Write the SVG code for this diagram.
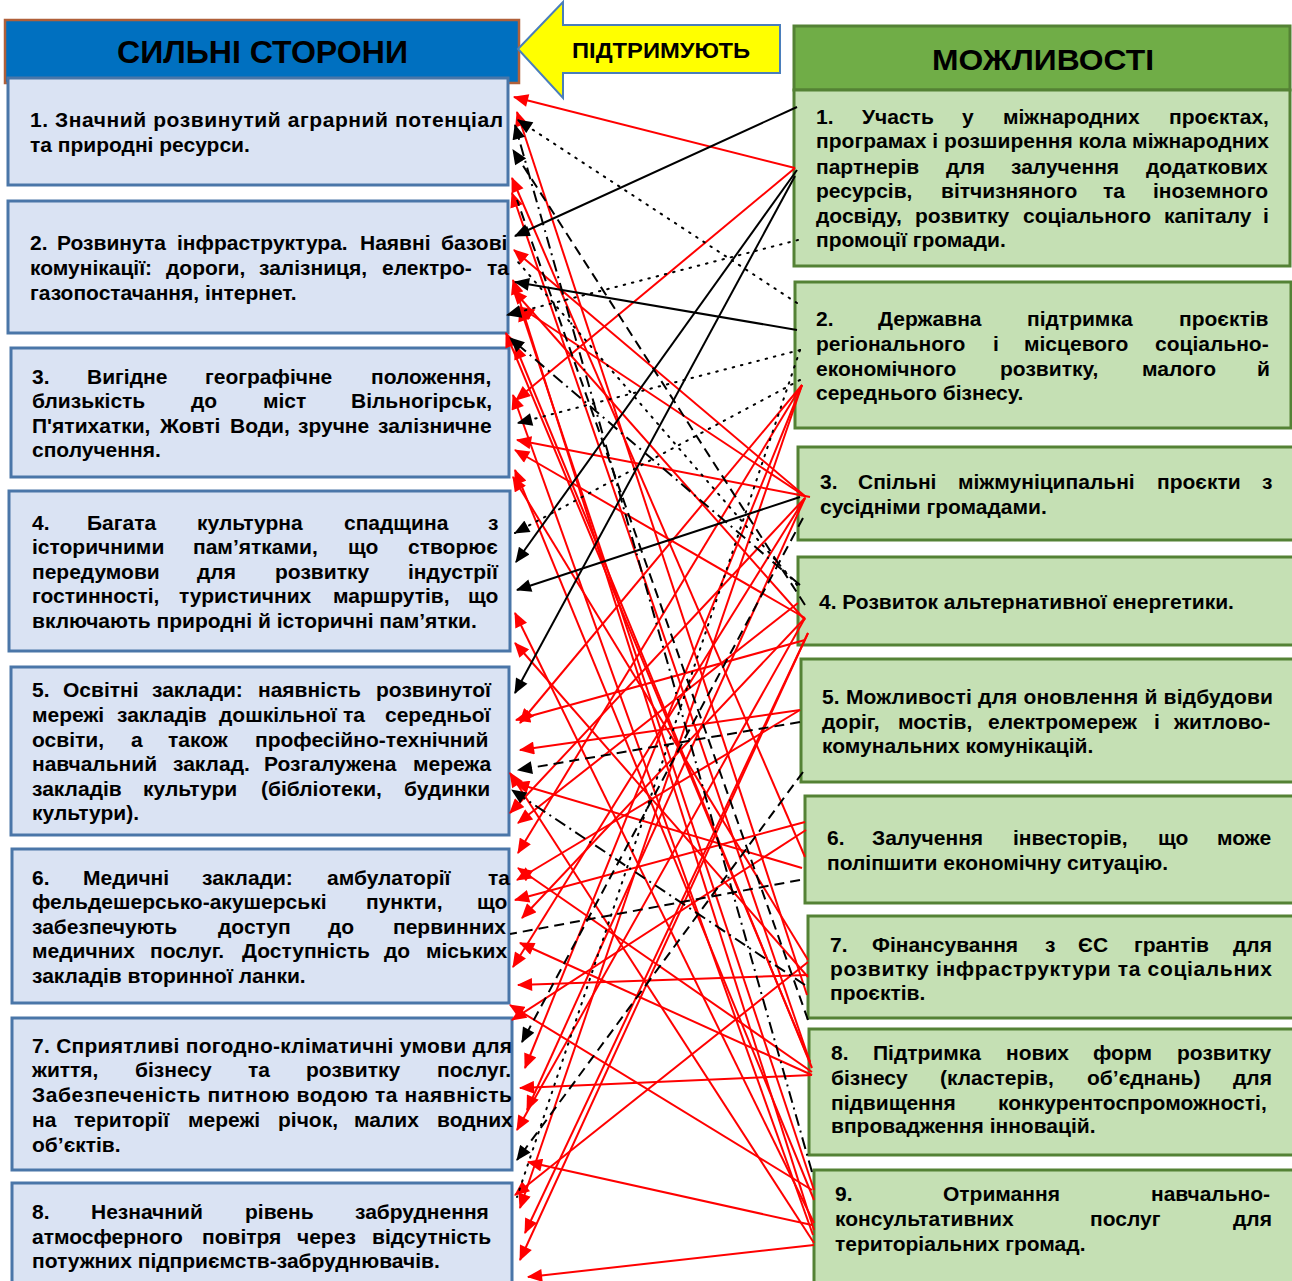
<svg xmlns="http://www.w3.org/2000/svg" width="1292" height="1281" viewBox="0 0 1292 1281">
<style>
.lbox{fill:#DAE3F3;stroke:#4A76A8;stroke-width:3}
.rbox{fill:#C5E0B4;stroke:#548235;stroke-width:3}
.t{font-family:"Liberation Sans",Arial,sans-serif;font-weight:bold;font-size:21px;fill:#000}
.h{font-family:"Liberation Sans",Arial,sans-serif;font-weight:bold;fill:#000}
.r{stroke:#FF0000;stroke-width:2;fill:none;marker-end:url(#ar)}
.k{stroke:#000;stroke-width:2;fill:none;marker-end:url(#ak)}
.kd{stroke:#000;stroke-width:2;fill:none;stroke-dasharray:10 6}
.kdd{stroke:#000;stroke-width:2;fill:none;stroke-dasharray:12 5 2 5}
.kp{stroke:#000;stroke-width:2;fill:none;stroke-dasharray:1.5 7;stroke-linecap:round}
.m{marker-end:url(#ak)}
</style>
<defs>
<marker id="ar" viewBox="0 0 14 12" refX="13" refY="6" markerWidth="16" markerHeight="13" markerUnits="userSpaceOnUse" orient="auto"><path d="M0,0 L14,6 L0,12 z" fill="#FF0000"/></marker>
<marker id="ak" viewBox="0 0 14 12" refX="13" refY="6" markerWidth="16" markerHeight="13" markerUnits="userSpaceOnUse" orient="auto"><path d="M0,0 L14,6 L0,12 z" fill="#000"/></marker>
</defs>
<rect width="1292" height="1281" fill="#FFFFFF"/>

<g id="header-strengths">
<rect x="5" y="20" width="514" height="63" fill="#0070C0" stroke="#B0603A" stroke-width="2.5"/>
<text class="h" x="117" y="63" font-size="31" textLength="291" lengthAdjust="spacingAndGlyphs">СИЛЬНІ СТОРОНИ</text>
</g>

<g id="arrow-support">
<path d="M518,49 L563,2 L563,25 L780,25 L780,73 L563,73 L563,98 Z" fill="#FFFF00" stroke="#4A7EBB" stroke-width="2"/>
<text class="h" x="572" y="58" font-size="22" textLength="178" lengthAdjust="spacingAndGlyphs">ПІДТРИМУЮТЬ</text>
</g>

<g id="header-opportunities">
<rect x="794" y="26" width="496" height="64" fill="#70AD47" stroke="#548235" stroke-width="3"/>
<text class="h" x="932" y="70" font-size="30" textLength="222" lengthAdjust="spacingAndGlyphs">МОЖЛИВОСТІ</text>
</g>

<g id="s1">
<rect class="lbox" x="8" y="78" width="500" height="107"/>
<text class="t" x="30" y="127" textLength="473" lengthAdjust="spacing">1. Значний розвинутий аграрний потенціал</text>
<text class="t" x="30" y="152">та природні ресурси.</text>
</g>

<g id="s2">
<rect class="lbox" x="8" y="201" width="500" height="132"/>
<text class="t" y="250"><tspan x="30">2.</tspan><tspan x="57">Розвинута</tspan><tspan x="177">інфраструктура.</tspan><tspan x="360">Наявні</tspan><tspan x="441">базові</tspan></text>
<text class="t" y="275"><tspan x="30">комунікації:</tspan><tspan x="166">дороги,</tspan><tspan x="259">залізниця,</tspan><tspan x="382">електро-</tspan><tspan x="487">та</tspan></text>
<text class="t" x="30" y="300">газопостачання, інтернет.</text>
</g>

<g id="s3">
<rect class="lbox" x="11" y="348" width="498" height="129"/>
<text class="t" y="384"><tspan x="32">3.</tspan><tspan x="87">Вигідне</tspan><tspan x="205">географічне</tspan><tspan x="371">положення,</tspan></text>
<text class="t" y="408"><tspan x="32">близькість</tspan><tspan x="191">до</tspan><tspan x="263">міст</tspan><tspan x="351">Вільногірськ,</tspan></text>
<text class="t" y="433"><tspan x="32">П'ятихатки,</tspan><tspan x="160">Жовті</tspan><tspan x="230">Води,</tspan><tspan x="298">зручне</tspan><tspan x="378">залізничне</tspan></text>
<text class="t" x="32" y="457">сполучення.</text>
</g>

<g id="s4">
<rect class="lbox" x="9" y="491" width="501" height="160"/>
<text class="t" y="530"><tspan x="32">4.</tspan><tspan x="87">Багата</tspan><tspan x="197">культурна</tspan><tspan x="344">спадщина</tspan><tspan x="488">з</tspan></text>
<text class="t" y="554"><tspan x="32">історичними</tspan><tspan x="193">пам’ятками,</tspan><tspan x="348">що</tspan><tspan x="408">створює</tspan></text>
<text class="t" y="579"><tspan x="32">передумови</tspan><tspan x="197">для</tspan><tspan x="275">розвитку</tspan><tspan x="408">індустрії</tspan></text>
<text class="t" y="603"><tspan x="32">гостинності,</tspan><tspan x="179">туристичних</tspan><tspan x="333">маршрутів,</tspan><tspan x="468">що</tspan></text>
<text class="t" x="32" y="628">включають природні й історичні пам’ятки.</text>
</g>

<g id="s5">
<rect class="lbox" x="11" y="667" width="498" height="168"/>
<text class="t" y="697"><tspan x="32">5.</tspan><tspan x="63">Освітні</tspan><tspan x="152">заклади:</tspan><tspan x="258">наявність</tspan><tspan x="376">розвинутої</tspan></text>
<text class="t" y="722"><tspan x="32">мережі</tspan><tspan x="117">закладів</tspan><tspan x="219">дошкільної</tspan><tspan x="343">та</tspan><tspan x="385">середньої</tspan></text>
<text class="t" y="747"><tspan x="32">освіти,</tspan><tspan x="131">а</tspan><tspan x="168">також</tspan><tspan x="255">професійно-технічний</tspan></text>
<text class="t" y="771"><tspan x="32">навчальний</tspan><tspan x="173">заклад.</tspan><tspan x="264">Розгалужена</tspan><tspan x="413">мережа</tspan></text>
<text class="t" y="796"><tspan x="32">закладів</tspan><tspan x="143">культури</tspan><tspan x="261">(бібліотеки,</tspan><tspan x="404">будинки</tspan></text>
<text class="t" x="32" y="820">культури).</text>
</g>

<g id="s6">
<rect class="lbox" x="12" y="849" width="497" height="154"/>
<text class="t" y="885"><tspan x="32">6.</tspan><tspan x="83">Медичні</tspan><tspan x="202">заклади:</tspan><tspan x="327">амбулаторії</tspan><tspan x="488">та</tspan></text>
<text class="t" y="909"><tspan x="32">фельдешерсько-акушерські</tspan><tspan x="366">пункти,</tspan><tspan x="477">що</tspan></text>
<text class="t" y="934"><tspan x="32">забезпечують</tspan><tspan x="218">доступ</tspan><tspan x="328">до</tspan><tspan x="393">первинних</tspan></text>
<text class="t" y="958"><tspan x="32">медичних</tspan><tspan x="150">послуг.</tspan><tspan x="242">Доступність</tspan><tspan x="384">до</tspan><tspan x="426">міських</tspan></text>
<text class="t" x="32" y="983">закладів вторинної ланки.</text>
</g>

<g id="s7">
<rect class="lbox" x="12" y="1018" width="500" height="152"/>
<text class="t" x="32" y="1053" textLength="480" lengthAdjust="spacing">7. Сприятливі погодно-кліматичні умови для</text>
<text class="t" y="1077"><tspan x="32">життя,</tspan><tspan x="135">бізнесу</tspan><tspan x="248">та</tspan><tspan x="306">розвитку</tspan><tspan x="437">послуг.</tspan></text>
<text class="t" x="32" y="1102" textLength="480" lengthAdjust="spacing">Забезпеченість питною водою та наявність</text>
<text class="t" y="1127"><tspan x="32">на</tspan><tspan x="74">території</tspan><tspan x="188">мережі</tspan><tspan x="278">річок,</tspan><tspan x="354">малих</tspan><tspan x="437">водних</tspan></text>
<text class="t" x="32" y="1152">об’єктів.</text>
</g>

<g id="s8">
<rect class="lbox" x="12" y="1183" width="500" height="112"/>
<text class="t" y="1219"><tspan x="32">8.</tspan><tspan x="91">Незначний</tspan><tspan x="245">рівень</tspan><tspan x="355">забруднення</tspan></text>
<text class="t" y="1244"><tspan x="32">атмосферного</tspan><tspan x="202">повітря</tspan><tspan x="297">через</tspan><tspan x="372">відсутність</tspan></text>
<text class="t" x="32" y="1268">потужних підприємств-забруднювачів.</text>
</g>

<g id="o1">
<rect class="rbox" x="794" y="90" width="496" height="176"/>
<text class="t" y="124"><tspan x="816">1.</tspan><tspan x="862">Участь</tspan><tspan x="962">у</tspan><tspan x="1003">міжнародних</tspan><tspan x="1169">проєктах,</tspan></text>
<text class="t" x="816" y="148" textLength="453" lengthAdjust="spacing">програмах і розширення кола міжнародних</text>
<text class="t" y="174"><tspan x="816">партнерів</tspan><tspan x="946">для</tspan><tspan x="1011">залучення</tspan><tspan x="1146">додаткових</tspan></text>
<text class="t" y="198"><tspan x="816">ресурсів,</tspan><tspan x="941">вітчизняного</tspan><tspan x="1103">та</tspan><tspan x="1153">іноземного</tspan></text>
<text class="t" y="223"><tspan x="816">досвіду,</tspan><tspan x="915">розвитку</tspan><tspan x="1023">соціального</tspan><tspan x="1164">капіталу</tspan><tspan x="1263">і</tspan></text>
<text class="t" x="816" y="247">промоції громади.</text>
</g>

<g id="o2">
<rect class="rbox" x="795" y="282" width="496" height="146"/>
<text class="t" y="326"><tspan x="816">2.</tspan><tspan x="878">Державна</tspan><tspan x="1027">підтримка</tspan><tspan x="1179">проєктів</tspan></text>
<text class="t" y="351"><tspan x="816">регіонального</tspan><tspan x="993">і</tspan><tspan x="1024">місцевого</tspan><tspan x="1155">соціально-</tspan></text>
<text class="t" y="376"><tspan x="816">економічного</tspan><tspan x="1000">розвитку,</tspan><tspan x="1142">малого</tspan><tspan x="1257">й</tspan></text>
<text class="t" x="816" y="400">середнього бізнесу.</text>
</g>

<g id="o3">
<rect class="rbox" x="798" y="447" width="496" height="93"/>
<text class="t" y="489"><tspan x="820">3.</tspan><tspan x="858">Спільні</tspan><tspan x="958">міжмуніципальні</tspan><tspan x="1157">проєкти</tspan><tspan x="1262">з</tspan></text>
<text class="t" x="820" y="514">сусідніми громадами.</text>
</g>

<g id="o4">
<rect class="rbox" x="798" y="557" width="496" height="88"/>
<text class="t" x="819" y="609">4. Розвиток альтернативної енергетики.</text>
</g>

<g id="o5">
<rect class="rbox" x="801" y="659" width="493" height="123"/>
<text class="t" x="822" y="704" textLength="451" lengthAdjust="spacing">5. Можливості для оновлення й відбудови</text>
<text class="t" y="729"><tspan x="822">доріг,</tspan><tspan x="898">мостів,</tspan><tspan x="988">електромереж</tspan><tspan x="1154">і</tspan><tspan x="1174">житлово-</tspan></text>
<text class="t" x="822" y="753">комунальних комунікацій.</text>
</g>

<g id="o6">
<rect class="rbox" x="805" y="796" width="490" height="107"/>
<text class="t" y="845"><tspan x="827">6.</tspan><tspan x="872">Залучення</tspan><tspan x="1013">інвесторів,</tspan><tspan x="1158">що</tspan><tspan x="1217">може</tspan></text>
<text class="t" x="827" y="870">поліпшити економічну ситуацію.</text>
</g>

<g id="o7">
<rect class="rbox" x="808" y="916" width="486" height="102"/>
<text class="t" y="952"><tspan x="830">7.</tspan><tspan x="872">Фінансування</tspan><tspan x="1045">з</tspan><tspan x="1078">ЄС</tspan><tspan x="1134">грантів</tspan><tspan x="1233">для</tspan></text>
<text class="t" x="830" y="976" textLength="442" lengthAdjust="spacing">розвитку інфраструктури та соціальних</text>
<text class="t" x="830" y="1000">проєктів.</text>
</g>

<g id="o8">
<rect class="rbox" x="809" y="1029" width="485" height="126"/>
<text class="t" y="1060"><tspan x="831">8.</tspan><tspan x="873">Підтримка</tspan><tspan x="1006">нових</tspan><tspan x="1093">форм</tspan><tspan x="1177">розвитку</tspan></text>
<text class="t" y="1085"><tspan x="831">бізнесу</tspan><tspan x="940">(кластерів,</tspan><tspan x="1087">об’єднань)</tspan><tspan x="1233">для</tspan></text>
<text class="t" y="1110"><tspan x="831">підвищення</tspan><tspan x="998">конкурентоспроможності,</tspan></text>
<text class="t" x="831" y="1133">впровадження інновацій.</text>
</g>

<g id="o9">
<rect class="rbox" x="814" y="1170" width="480" height="125"/>
<text class="t" y="1201"><tspan x="835">9.</tspan><tspan x="943">Отримання</tspan><tspan x="1151">навчально-</tspan></text>
<text class="t" y="1226"><tspan x="835">консультативних</tspan><tspan x="1090">послуг</tspan><tspan x="1233">для</tspan></text>
<text class="t" x="835" y="1251">територіальних громад.</text>
</g>

<g id="connectors">
<line class="r" x1="795" y1="168" x2="514" y2="97"/>
<line class="r" x1="795" y1="168" x2="516" y2="400"/>
<line class="r" x1="806" y1="497" x2="514" y2="250"/>
<line class="r" x1="810" y1="497" x2="517" y2="440"/>
<line class="r" x1="805" y1="618" x2="515" y2="450"/>
<line class="r" x1="800" y1="710" x2="520" y2="750"/>
<line class="r" x1="802" y1="868" x2="515" y2="783"/>
<line class="r" x1="808" y1="975" x2="518" y2="985"/>
<line class="r" x1="812" y1="1190" x2="510" y2="1005"/>
<line class="r" x1="812" y1="1075" x2="520" y2="1088"/>
<line class="r" x1="812" y1="1225" x2="528" y2="1162"/>
<line class="r" x1="814" y1="1245" x2="528" y2="1277"/>
<line class="r" x1="805" y1="857" x2="512" y2="178"/>
<line class="r" x1="810" y1="1062" x2="512" y2="193"/>
<line class="r" x1="810" y1="1062" x2="506" y2="333"/>
<line class="r" x1="814" y1="1190" x2="520" y2="307"/>
<line class="r" x1="814" y1="1230" x2="513" y2="280"/>
<line class="r" x1="808" y1="960" x2="513" y2="477"/>
<line class="r" x1="814" y1="1223" x2="515" y2="613"/>
<line class="r" x1="808" y1="977" x2="515" y2="643"/>
<line class="r" x1="802" y1="385" x2="520" y2="723"/>
<line class="r" x1="802" y1="385" x2="518" y2="853"/>
<line class="r" x1="802" y1="385" x2="525" y2="1068"/>
<line class="r" x1="802" y1="385" x2="520" y2="1208"/>
<line class="r" x1="805" y1="498" x2="510" y2="813"/>
<line class="r" x1="805" y1="498" x2="513" y2="967"/>
<line class="r" x1="805" y1="498" x2="527" y2="1110"/>
<line class="r" x1="808" y1="633" x2="525" y2="1233"/>
<line class="r" x1="808" y1="633" x2="520" y2="1260"/>
<line class="r" x1="805" y1="618" x2="522" y2="918"/>
<line class="r" x1="805" y1="618" x2="517" y2="1130"/>
<line class="r" x1="798" y1="603" x2="518" y2="823"/>
<line class="r" x1="800" y1="710" x2="517" y2="880"/>
<line class="r" x1="805" y1="822" x2="515" y2="900"/>
<line class="r" x1="814" y1="1243" x2="510" y2="773"/>
<line class="r" x1="812" y1="1075" x2="520" y2="943"/>
<line class="r" x1="806" y1="497" x2="520" y2="307"/>
<line class="r" x1="805" y1="620" x2="513" y2="290"/>
<line class="r" x1="807" y1="995" x2="517" y2="112"/>
<line class="r" x1="814" y1="1200" x2="515" y2="470"/>
<line class="r" x1="812" y1="1068" x2="515" y2="345"/>
<line class="r" x1="813" y1="1235" x2="513" y2="395"/>
<line class="r" x1="806" y1="830" x2="512" y2="1020"/>
<line class="r" x1="808" y1="962" x2="515" y2="1195"/>
<line class="r" x1="805" y1="640" x2="516" y2="720"/>
<line class="r" x1="812" y1="1072" x2="518" y2="868"/>
<line class="k" x1="797" y1="107" x2="515" y2="236"/>
<line class="k" x1="797" y1="170" x2="516" y2="562"/>
<line class="k" x1="795" y1="176" x2="515" y2="693"/>
<line class="k" x1="797" y1="330" x2="515" y2="282"/>
<line class="k" x1="800" y1="497" x2="517" y2="590"/>
<line class="kp m" x1="797" y1="303" x2="518" y2="120"/>
<line class="kp m" x1="800" y1="350" x2="518" y2="423"/>
<line class="kp m" x1="800" y1="380" x2="515" y2="533"/>
<line class="kp" x1="800" y1="350" x2="517" y2="1197"/>
<line class="kp" x1="797" y1="585" x2="518" y2="262"/>
<line class="kp m" x1="798" y1="240" x2="507" y2="315"/>
<line class="kd m" x1="805" y1="605" x2="513" y2="150"/>
<line class="kd m" x1="800" y1="722" x2="518" y2="770"/>
<line class="kd" x1="800" y1="880" x2="510" y2="934"/>
<line class="kd m" x1="803" y1="772" x2="517" y2="1160"/>
<line class="kd m" x1="803" y1="518" x2="522" y2="1042"/>
<line class="kd" x1="808" y1="1020" x2="517" y2="200"/>
<line class="kdd m" x1="812" y1="1172" x2="515" y2="125"/>
<line class="kdd m" x1="805" y1="985" x2="512" y2="790"/>
<line class="kdd m" x1="800" y1="585" x2="510" y2="338"/>
</g>
</svg>
